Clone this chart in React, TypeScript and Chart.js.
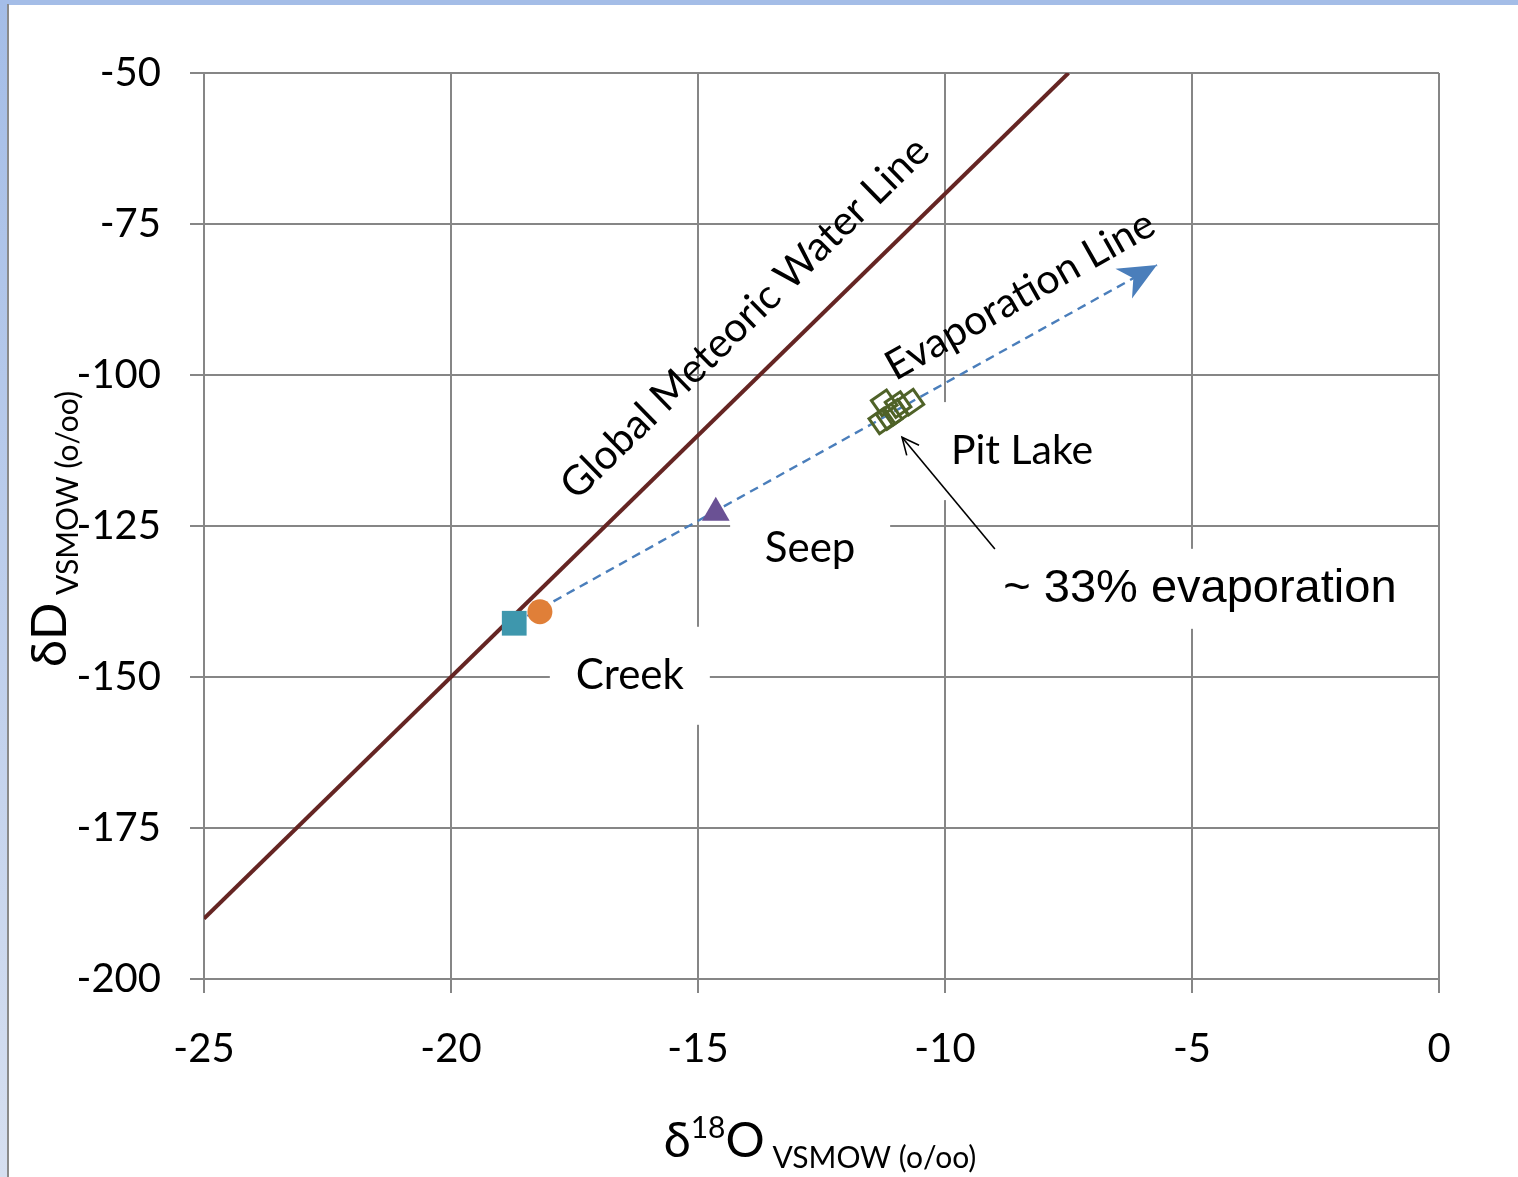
import React, { useEffect, useRef } from 'react';
import { Chart, registerables } from 'chart.js';

Chart.register(...registerables);

// ---- data ----
const xTickValues = [-25, -20, -15, -10, -5, 0];
const yTickValues = [-200, -175, -150, -125, -100, -75, -50];

const gmwlX = [-25, -7.5];
const gmwlY = [-190, -50];

const evapX = [-18.72, -5.71];
const evapY = [-141.1, -81.8];

const creekX = [-18.72];
const creekY = [-141.1];

const creek2X = [-18.2];
const creek2Y = [-139.2];

const seepX = [-14.64];
const seepY = [-122.8];

const pitX = [-11.23, -10.95, -10.69, -11.28, -11.13, -11.01];
const pitY = [-104.6, -104.9, -104.5, -107.6, -106.9, -106.2];

const pitArrowX = [-8.99, -10.87];
const pitArrowY = [-128.8, -110.3];

const toPts = (xs: number[], ys: number[]) => xs.map((x, i) => ({ x, y: ys[i] }));

// ---- annotation labels (boxed) ----
const boxedLabels = [
  { text: 'Creek', x: -16.38, y: -149.8, w: 160, h: 98, font: '42px Lato' },
  { text: 'Seep', x: -12.73, y: -128.8, w: 160, h: 98, font: '42px Lato' },
  { text: 'Pit Lake', x: -8.44, y: -112.6, w: 180, h: 98, font: '41px Lato' },
  { text: '~ 33% evaporation', x: -4.84, y: -135.4, w: 420, h: 80, font: '47px "Liberation Sans"' },
];

const rotatedLabels = [
  { text: 'Global Meteoric Water Line', x: -14.05, y: -90.6, angle: -44.4, font: '41px Lato' },
  { text: 'Evaporation Line', x: -8.48, y: -86.8, angle: -29.5, font: '41px Lato' },
];

const GRID = '#868686';

const annotPlugin = {
  id: 'annot',
  beforeDatasetsDraw(chart: any) {
    const { ctx, scales } = chart;
    const xs = scales.x, ys = scales.y;
    ctx.save();
    for (const b of boxedLabels) {
      const cx = xs.getPixelForValue(b.x);
      const cy = ys.getPixelForValue(b.y);
      ctx.fillStyle = '#ffffff';
      ctx.fillRect(cx - b.w / 2, cy - b.h / 2, b.w, b.h);
      ctx.fillStyle = '#000000';
      ctx.font = b.font;
      ctx.textAlign = 'center';
      ctx.textBaseline = 'middle';
      ctx.fillText(b.text, cx, cy);
    }
    ctx.restore();
  },
  afterDatasetsDraw(chart: any) {
    const { ctx, scales } = chart;
    const xs = scales.x, ys = scales.y;
    ctx.save();
    // stealth arrowhead on evaporation line
    const x0 = xs.getPixelForValue(evapX[0]);
    const y0 = ys.getPixelForValue(evapY[0]);
    const x1 = xs.getPixelForValue(evapX[1]);
    const y1 = ys.getPixelForValue(evapY[1]);
    let dx = x1 - x0, dy = y1 - y0;
    let len = Math.hypot(dx, dy);
    let ux = dx / len, uy = dy / len;
    let nx = -uy, ny = ux;
    const L = 38, W = 17, N = 27;
    ctx.fillStyle = '#4a7ebb';
    ctx.beginPath();
    ctx.moveTo(x1, y1);
    ctx.lineTo(x1 - L * ux + W * nx, y1 - L * uy + W * ny);
    ctx.lineTo(x1 - N * ux, y1 - N * uy);
    ctx.lineTo(x1 - L * ux - W * nx, y1 - L * uy - W * ny);
    ctx.closePath();
    ctx.fill();

    // Pit Lake pointer arrow
    const ax0 = xs.getPixelForValue(pitArrowX[0]);
    const ay0 = ys.getPixelForValue(pitArrowY[0]);
    const ax1 = xs.getPixelForValue(pitArrowX[1]);
    const ay1 = ys.getPixelForValue(pitArrowY[1]);
    ctx.strokeStyle = '#000000';
    ctx.lineWidth = 1.6;
    ctx.beginPath();
    ctx.moveTo(ax0, ay0);
    ctx.lineTo(ax1, ay1);
    ctx.stroke();
    dx = ax1 - ax0; dy = ay1 - ay0; len = Math.hypot(dx, dy);
    ux = dx / len; uy = dy / len; nx = -uy; ny = ux;
    const hl = 17, hw = 8;
    ctx.beginPath();
    ctx.moveTo(ax1 - hl * ux + hw * nx, ay1 - hl * uy + hw * ny);
    ctx.lineTo(ax1, ay1);
    ctx.lineTo(ax1 - hl * ux - hw * nx, ay1 - hl * uy - hw * ny);
    ctx.stroke();

    // rotated labels
    for (const r of rotatedLabels) {
      const cx = xs.getPixelForValue(r.x);
      const cy = ys.getPixelForValue(r.y);
      ctx.save();
      ctx.translate(cx, cy);
      ctx.rotate((r.angle * Math.PI) / 180);
      ctx.font = r.font;
      ctx.fillStyle = '#000000';
      ctx.textAlign = 'center';
      ctx.textBaseline = 'middle';
      ctx.fillText(r.text, 0, 0);
      ctx.restore();
    }
    ctx.restore();
  },
  afterDraw(chart: any) {
    const { ctx } = chart;
    ctx.save();
    ctx.fillStyle = '#000000';
    ctx.textBaseline = 'alphabetic';
    ctx.textAlign = 'left';
    // x-axis title: δ18O VSMOW (o/oo)
    const bigFont = '49px Lato';
    const supFont = '30px Lato';
    const subFont = '30px Lato';
    ctx.font = bigFont;
    const wDelta = ctx.measureText('δ').width;
    const wO = ctx.measureText('O').width;
    ctx.font = supFont;
    const w18 = ctx.measureText('18').width;
    ctx.font = subFont;
    const wSub = ctx.measureText(' VSMOW (o/oo)').width;
    const total = wDelta + w18 + wO + wSub;
    let px = 820 - total / 2;
    ctx.font = bigFont;
    ctx.fillText('δ', px, 1157);
    px += wDelta;
    ctx.font = supFont;
    ctx.fillText('18', px, 1138);
    px += w18;
    ctx.font = bigFont;
    ctx.fillText('O', px, 1157);
    px += wO;
    ctx.font = subFont;
    ctx.fillText(' VSMOW (o/oo)', px, 1168);

    // y-axis title: δD VSMOW (o/oo)
    ctx.save();
    ctx.rotate(-Math.PI / 2);
    const yBig = '49px Lato';
    const ySub = '30px Lato';
    ctx.font = yBig;
    const wDD = ctx.measureText('δD').width;
    ctx.font = ySub;
    const wYS = ctx.measureText(' VSMOW (o/oo)').width;
    const tot2 = wDD + wYS;
    let py = -(529 + tot2 / 2);
    ctx.font = yBig;
    ctx.fillText('δD', py, 66);
    py += wDD;
    ctx.font = ySub;
    ctx.fillText(' VSMOW (o/oo)', py, 78);
    ctx.restore();
    ctx.restore();
  },
};

export default function App() {
  const ref = useRef<HTMLCanvasElement | null>(null);

  useEffect(() => {
    if (!ref.current) return;
    const chart = new Chart(ref.current, {
      type: 'scatter',
      data: {
        datasets: [
          {
            label: 'Pit Lake',
            data: toPts(pitX, pitY),
            pointStyle: 'rect',
            rotation: -35,
            pointRadius: 13,
            borderColor: '#4f6228',
            borderWidth: 3,
            backgroundColor: 'rgba(0,0,0,0)',
            order: 1,
          },
          {
            label: 'Seep',
            data: toPts(seepX, seepY),
            pointStyle: 'triangle',
            pointRadius: 16,
            backgroundColor: '#6a5194',
            borderColor: '#6a5194',
            borderWidth: 0,
            order: 1,
          },
          {
            label: 'Creek 2',
            data: toPts(creek2X, creek2Y),
            pointStyle: 'circle',
            pointRadius: 12.5,
            backgroundColor: '#e07f38',
            borderColor: '#e07f38',
            borderWidth: 0,
            order: 1,
          },
          {
            label: 'Creek',
            data: toPts(creekX, creekY),
            pointStyle: 'rect',
            pointRadius: 17.5,
            backgroundColor: '#3e97ad',
            borderColor: '#3e97ad',
            borderWidth: 0,
            order: 0,
          },
          {
            label: 'Evaporation Line',
            data: toPts(evapX, evapY),
            showLine: true,
            borderColor: '#4a7ebb',
            borderWidth: 2.4,
            borderDash: [9, 6],
            pointRadius: 0,
            order: 2,
          },
          {
            label: 'Global Meteoric Water Line',
            data: toPts(gmwlX, gmwlY),
            showLine: true,
            borderColor: '#652523',
            borderWidth: 4,
            pointRadius: 0,
            order: 3,
          },
        ],
      },
      options: {
        animation: false,
        responsive: false,
        devicePixelRatio: 1,
        layout: { padding: { left: 8, top: 73, right: 79, bottom: 0 } },
        plugins: { legend: { display: false }, tooltip: { enabled: false } },
        scales: {
          x: {
            type: 'linear',
            min: -25,
            max: 0,
            afterFit: (s: any) => { s.height = 198; },
            afterBuildTicks: (s: any) => { s.ticks = xTickValues.map((v) => ({ value: v })); },
            ticks: {
              color: '#000',
              font: { family: 'Lato', size: 40 },
              padding: 32,
              maxRotation: 0,
              callback: (v: any) => String(v),
            },
            grid: { color: GRID, lineWidth: 2, tickLength: 14, tickColor: GRID },
            border: { color: GRID, width: 2 },
          },
          y: {
            type: 'linear',
            min: -200,
            max: -50,
            afterFit: (s: any) => { s.width = 196; },
            afterBuildTicks: (s: any) => { s.ticks = yTickValues.map((v) => ({ value: v })); },
            ticks: {
              color: '#000',
              font: { family: 'Lato', size: 40 },
              padding: 29,
              callback: (v: any) => String(v),
            },
            grid: { color: GRID, lineWidth: 2, tickLength: 14, tickColor: GRID },
            border: { color: GRID, width: 2 },
          },
        },
      },
      plugins: [annotPlugin],
    } as any);
    return () => chart.destroy();
  }, []);

  return (
    <div style={{ position: 'absolute', left: 0, top: 0, width: 1518, height: 1177, background: '#ffffff', overflow: 'hidden' }}>
      <canvas ref={ref} width={1518} height={1177} style={{ width: 1518, height: 1177, display: 'block' }} />
      <div style={{ position: 'absolute', left: 0, top: 0, width: 1518, height: 5, background: '#a4bde7' }} />
      <div style={{ position: 'absolute', left: 0, top: 0, width: 7, height: 1177, background: 'linear-gradient(#a4bde7, #d6dff0)' }} />
      <div style={{ position: 'absolute', left: 7, top: 4, width: 2, height: 1173, background: '#8a8a8a' }} />
    </div>
  );
}
